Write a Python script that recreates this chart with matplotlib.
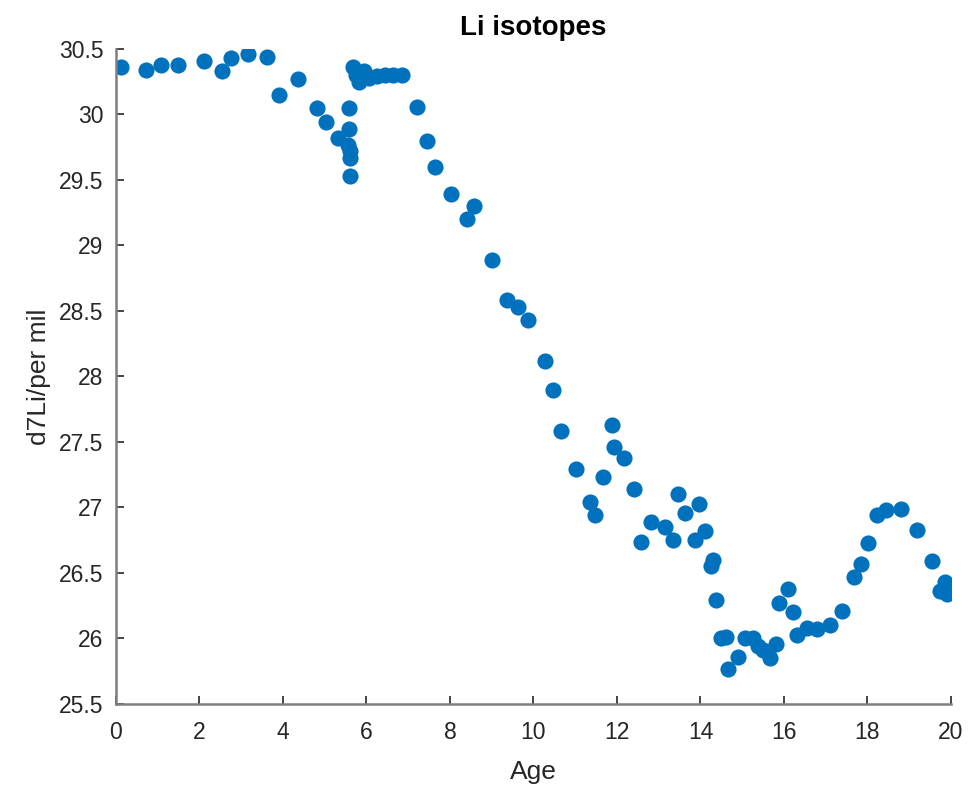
import matplotlib.pyplot as plt

plt.rcParams['font.family'] = ['Liberation Sans', 'DejaVu Sans']

# Age vs d7Li values
age = [0.11, 0.72, 1.09, 1.49, 2.11, 2.53, 2.75, 3.16, 3.61, 3.90,
       4.35, 4.81, 5.04, 5.31, 5.55, 5.59, 5.59, 5.60, 5.60, 5.60,
       5.68, 5.75, 5.82, 5.95, 6.05, 6.25, 6.45, 6.64, 6.84,
       7.20, 7.44, 7.63, 8.02, 8.40, 8.58, 9.00, 9.36, 9.64, 9.88,
       10.28, 10.46, 10.66, 11.02, 11.35, 11.47, 11.66, 11.87, 11.94, 12.18,
       12.41, 12.57, 12.81, 13.15, 13.33, 13.47, 13.64, 13.87, 13.97, 14.11,
       14.25, 14.31, 14.37, 14.49, 14.61, 14.67, 14.89, 15.07, 15.25, 15.37,
       15.49, 15.66, 15.82, 15.89, 16.09, 16.22, 16.30, 16.54, 16.78, 17.10,
       17.38, 17.68, 17.84, 18.02, 18.22, 18.44, 18.80, 19.18, 19.54, 19.74,
       19.86, 19.90]
d7li = [30.36, 30.34, 30.38, 30.38, 30.41, 30.33, 30.43, 30.46, 30.44, 30.15,
        30.27, 30.05, 29.94, 29.82, 29.77, 30.05, 29.89, 29.72, 29.67, 29.53,
        30.36, 30.30, 30.25, 30.33, 30.28, 30.29, 30.30, 30.30, 30.30,
        30.06, 29.80, 29.60, 29.39, 29.20, 29.30, 28.89, 28.58, 28.53, 28.43,
        28.12, 27.90, 27.58, 27.29, 27.04, 26.94, 27.23, 27.63, 27.46, 27.38,
        27.14, 26.74, 26.89, 26.85, 26.75, 27.10, 26.96, 26.75, 27.03, 26.82,
        26.55, 26.60, 26.29, 26.00, 26.01, 25.77, 25.86, 26.00, 26.00, 25.94,
        25.91, 25.85, 25.96, 26.27, 26.38, 26.20, 26.03, 26.08, 26.07, 26.10,
        26.21, 26.47, 26.57, 26.73, 26.94, 26.98, 26.99, 26.83, 26.59, 26.36,
        26.43, 26.34]

fig = plt.figure(figsize=(9.69, 7.95), dpi=100)
ax = fig.add_axes([0.1197, 0.1145, 0.8617, 0.8239])

ax.scatter(age, d7li, s=135, color='#0072BD', linewidths=0)

ax.set_xlim(0, 20)
ax.set_ylim(25.5, 30.5)
ax.set_xticks(range(0, 21, 2))
ax.set_yticks([25.5, 26, 26.5, 27, 27.5, 28, 28.5, 29, 29.5, 30, 30.5])
ax.set_yticklabels(['25.5', '26', '26.5', '27', '27.5', '28', '28.5', '29', '29.5', '30', '30.5'])

for side in ['top', 'right']:
    ax.spines[side].set_visible(False)
for side in ['left', 'bottom']:
    ax.spines[side].set_color('#7f7f7f')
    ax.spines[side].set_linewidth(1.8)
ax.tick_params(direction='in', length=6, width=1.2, color='#262626',
               labelsize=16.5, labelcolor='#262626')
ax.tick_params(axis='x', pad=12)
ax.tick_params(axis='y', pad=9)

ax.set_xlabel('Age', fontsize=19, color='#262626', labelpad=12)
ax.set_ylabel('d7Li/per mil', fontsize=19, color='#262626', labelpad=6)
ax.set_title('Li isotopes', fontsize=20, fontweight='bold', pad=10)

fig.savefig('out.png', dpi=100)
